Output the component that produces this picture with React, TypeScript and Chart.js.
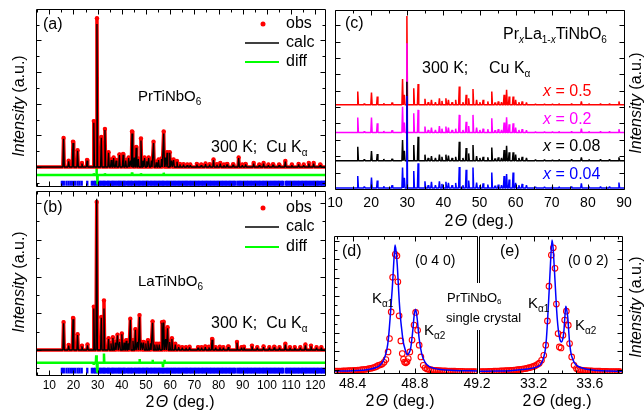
import React, { useEffect, useRef } from "react";
import { Chart, registerables } from "chart.js";

Chart.register(...registerables);

const FONT = '"Liberation Sans", Arial, Helvetica, sans-serif';

// ===== (a) PrTiNbO6 powder pattern (peak position, calc height, obs height) =====
const A_POS = [15.9, 18.0, 19.8, 21.7, 23.5, 25.6, 28.4, 29.7, 31.5, 33.0, 34.5, 35.6, 36.6, 37.6, 39.0, 40.5, 41.6, 42.8, 43.6, 44.2, 45.1, 45.9, 46.8, 47.9, 48.7, 49.4, 50.3, 51.1, 52.2, 53.1, 54.2, 55.2, 56.4, 57.3, 58.0, 58.7, 59.8, 60.6, 61.4, 62.8, 64.0, 65.5, 67.0, 68.3, 71.0, 72.8, 74.6, 76.3, 77.9, 79.3, 80.7, 82.2, 83.5, 86.0, 88.3, 89.8, 91.2, 94.5, 96.8, 98.6, 100.6, 102.5, 105.0, 107.6, 110.3, 113.1, 115.2, 117.3, 119.3, 122.0];
const A_CALC = [0.89, 0.18, 0.76, 0.51, 0.11, 0.2, 1.4, 4.52, 0.92, 1.17, 0.45, 0.22, 0.28, 0.2, 0.38, 0.39, 0.2, 0.28, 0.2, 1.06, 0.3, 0.61, 0.25, 0.84, 0.2, 0.28, 0.18, 0.28, 0.2, 0.76, 0.15, 0.22, 0.25, 1.06, 0.3, 0.45, 0.45, 0.2, 0.22, 0.17, 0.08, 0.07, 0.06, 0.06, 0.08, 0.06, 0.09, 0.07, 0.22, 0.07, 0.11, 0.06, 0.08, 0.07, 0.28, 0.06, 0.08, 0.11, 0.06, 0.11, 0.06, 0.07, 0.06, 0.17, 0.06, 0.08, 0.06, 0.11, 0.11, 0.06];
const A_OBS = [0.92, 0.2, 0.8, 0.53, 0.13, 0.22, 1.45, 4.7, 0.95, 1.2, 0.47, 0.24, 0.3, 0.22, 0.4, 0.41, 0.22, 0.3, 0.22, 1.12, 0.32, 0.63, 0.27, 0.9, 0.22, 0.3, 0.2, 0.3, 0.22, 0.8, 0.17, 0.24, 0.27, 1.12, 0.32, 0.47, 0.47, 0.22, 0.24, 0.19, 0.1, 0.09, 0.08, 0.08, 0.1, 0.08, 0.11, 0.09, 0.24, 0.09, 0.13, 0.08, 0.1, 0.09, 0.3, 0.08, 0.1, 0.13, 0.08, 0.13, 0.08, 0.09, 0.08, 0.19, 0.08, 0.1, 0.08, 0.13, 0.13, 0.08];
const A_DIFF_BASE = -0.25;
const A_DIFF_POS = [28.4, 29.5, 29.9, 33.0, 44.2, 47.9, 57.3];
const A_DIFF_VAL = [0.05, 0.25, -0.3, 0.05, 0.08, 0.05, 0.07];
const A_BRAGG_Y = -0.52;

// ===== (b) LaTiNbO6 powder pattern =====
const B_POS = [15.9, 18.0, 19.8, 21.7, 23.5, 25.8, 28.4, 29.6, 31.5, 32.6, 34.5, 35.5, 36.3, 37.3, 38.2, 39.1, 40.0, 40.9, 41.8, 42.7, 43.5, 44.6, 45.6, 46.5, 47.3, 48.2, 49.0, 49.9, 50.8, 51.8, 52.7, 53.6, 54.5, 55.5, 56.6, 57.3, 58.1, 58.9, 59.8, 60.7, 62.1, 63.5, 65.0, 66.5, 68.0, 71.5, 73.0, 74.5, 76.0, 77.3, 78.8, 80.5, 82.0, 84.0, 87.6, 89.5, 90.5, 93.8, 96.0, 98.6, 101.0, 103.0, 105.2, 107.6, 109.5, 111.5, 113.8, 115.9, 118.2, 120.5, 122.5];
const B_CALC = [0.73, 0.12, 0.84, 0.41, 0.1, 0.13, 1.13, 4.12, 0.88, 1.13, 0.3, 0.18, 0.33, 0.2, 0.4, 0.22, 0.43, 0.2, 0.25, 0.18, 0.82, 0.25, 0.55, 0.22, 0.9, 0.2, 0.2, 0.18, 0.25, 0.18, 0.74, 0.15, 0.15, 0.15, 0.74, 0.75, 0.3, 0.59, 0.22, 0.3, 0.15, 0.08, 0.06, 0.06, 0.07, 0.06, 0.06, 0.08, 0.07, 0.28, 0.06, 0.07, 0.06, 0.08, 0.2, 0.06, 0.07, 0.1, 0.06, 0.08, 0.06, 0.07, 0.06, 0.15, 0.06, 0.06, 0.06, 0.13, 0.1, 0.06, 0.06];
const B_OBS = [0.76, 0.14, 0.87, 0.43, 0.12, 0.15, 1.18, 4.03, 0.9, 1.35, 0.32, 0.2, 0.35, 0.22, 0.42, 0.24, 0.45, 0.22, 0.27, 0.2, 0.85, 0.27, 0.57, 0.24, 0.95, 0.22, 0.22, 0.2, 0.27, 0.2, 0.78, 0.17, 0.17, 0.17, 0.76, 0.77, 0.32, 0.62, 0.24, 0.32, 0.17, 0.1, 0.08, 0.08, 0.09, 0.08, 0.08, 0.1, 0.09, 0.3, 0.08, 0.09, 0.08, 0.1, 0.22, 0.08, 0.09, 0.12, 0.08, 0.1, 0.08, 0.09, 0.08, 0.17, 0.08, 0.08, 0.08, 0.15, 0.12, 0.08, 0.08];
const B_DIFF_BASE = -0.345;
const B_DIFF_POS = [28.4, 29.4, 29.8, 32.6, 47.3, 52.7, 57.0, 57.6];
const B_DIFF_VAL = [-0.06, 0.2, -0.25, 0.25, 0.1, 0.08, -0.12, 0.08];
const B_BRAGG_Y = -0.56;

// Bragg reflection positions (blue tick marks)
const BRAGG = [15.2, 16.0, 17.1, 18.0, 18.9, 19.8, 20.7, 21.7, 22.5, 23.4, 25.7, 27.6, 28.4, 29.0, 29.6, 30.4, 31.0, 31.5, 32.1, 32.6, 33.0, 33.7, 34.3, 34.6, 35.3, 35.9, 36.4, 36.9, 37.5, 38.2, 38.7, 39.1, 39.7, 40.3, 40.8, 41.2, 41.9, 42.6, 43.1, 43.7, 44.2, 44.9, 45.5, 46.0, 46.6, 47.1, 47.6, 48.2, 48.8, 49.3, 49.9, 50.4, 50.8, 51.5, 52.1, 52.6, 53.2, 53.7, 54.3, 54.8, 55.4, 55.9, 56.5, 57.0, 57.4, 58.1, 58.6, 59.2, 59.7, 60.3, 60.9, 61.4, 61.9, 62.5, 63.1, 63.6, 64.2, 64.7, 65.3, 65.9, 66.4, 66.9, 67.5, 68.1, 68.6, 69.2, 69.7, 70.3, 70.8, 71.4, 71.9, 72.5, 73.1, 73.6, 74.2, 74.7, 75.3, 75.8, 76.4, 76.9, 77.5, 78.0, 78.6, 79.2, 79.7, 80.3, 80.8, 81.4, 81.9, 82.5, 83.0, 83.6, 84.2, 84.7, 85.3, 85.8, 86.4, 86.9, 87.8, 88.3, 88.9, 89.4, 90.0, 90.6, 91.1, 91.7, 92.2, 92.8, 93.3, 93.9, 94.5, 95.0, 95.6, 96.1, 96.7, 97.2, 97.8, 98.4, 98.9, 99.5, 100.0, 100.6, 101.1, 101.7, 102.3, 102.8, 103.4, 103.9, 104.5, 105.0, 105.6, 106.2, 106.7, 107.8, 108.3, 108.9, 109.4, 110.0, 110.6, 111.1, 111.7, 112.2, 112.8, 113.3, 113.9, 114.5, 115.0, 115.6, 116.1, 116.7, 117.2, 117.8, 118.4, 118.9, 119.5, 120.0, 120.6, 121.1, 121.7, 122.3, 122.8, 123.4, 123.9];

const AB_X_TICKS = [10, 20, 30, 40, 50, 60, 70, 80, 90, 100, 110, 120];
const AB_X_MINOR = [5, 15, 25, 35, 45, 55, 65, 75, 85, 95, 105, 115];
const AB_Y_MAJOR = [0, 1, 2, 3, 4];
const AB_Y_MINOR = [-0.5, 0.5, 1.5, 2.5, 3.5, 4.5];

// ===== (c) PrxLa1-xTiNbO6 patterns =====
const C_POS = [16.3, 18.1, 20.1, 21.7, 23.5, 25.8, 28.7, 29.2, 29.9, 31.8, 33.0, 34.9, 35.8, 36.7, 37.8, 38.9, 39.6, 40.7, 41.4, 42.4, 43.4, 44.4, 45.4, 46.3, 47.0, 48.2, 49.2, 50.1, 51.0, 52.3, 53.4, 54.3, 55.2, 56.1, 56.8, 57.5, 58.2, 59.3, 60.0, 60.9, 61.8, 63.0, 65.5, 68.0, 70.2, 72.0, 75.5, 78.2, 80.3, 83.5, 86.0, 88.6];
const C_X05 = [7.4, 0.7, 6.9, 4.7, 0.9, 1.3, 14.5, 5.6, 49.7, 9.3, 11.7, 3.4, 1.5, 2.8, 1.5, 3.7, 2.2, 3.7, 2.8, 1.5, 2.8, 10.2, 1.5, 5.6, 3.7, 8.8, 2.8, 1.5, 2.8, 1.9, 7.4, 1.3, 1.9, 1.5, 5.6, 8.4, 4.7, 4.7, 2.8, 1.5, 1.9, 1.3, 0.6, 0.6, 0.5, 0.7, 0.7, 1.9, 0.7, 0.7, 0.7, 1.9];
const C_X02 = [8.4, 0.7, 8.4, 5.2, 0.9, 1.3, 14.5, 5.6, 49.9, 10.8, 12.7, 3.4, 1.5, 2.8, 1.5, 3.7, 2.2, 3.4, 2.8, 1.5, 2.2, 9.9, 1.5, 6.1, 3.7, 9.9, 2.8, 1.5, 2.2, 1.9, 8.0, 1.3, 1.9, 1.5, 5.6, 8.6, 4.7, 5.2, 2.8, 1.5, 1.9, 1.3, 0.6, 0.6, 0.5, 0.7, 0.7, 2.2, 0.7, 0.7, 0.7, 1.9];
const C_X008 = [7.8, 0.7, 5.4, 3.7, 0.9, 1.1, 11.5, 5.6, 44.1, 8.8, 13.4, 3.4, 1.5, 2.6, 1.5, 3.4, 2.2, 3.4, 2.8, 1.5, 2.2, 10.6, 1.5, 7.1, 4.1, 8.8, 2.6, 1.5, 2.2, 1.9, 7.4, 1.3, 1.9, 1.5, 6.0, 8.4, 4.7, 4.7, 3.4, 1.5, 2.2, 1.5, 0.6, 0.6, 0.5, 0.7, 0.7, 1.9, 0.7, 0.7, 0.7, 1.9];
const C_X004 = [6.7, 0.7, 5.8, 4.1, 0.9, 1.5, 11.4, 5.6, 51.4, 9.5, 13.8, 3.7, 1.5, 3.4, 1.5, 3.7, 2.2, 3.4, 2.8, 1.5, 2.8, 11.7, 1.5, 10.1, 4.1, 11.4, 3.0, 1.5, 2.6, 1.9, 8.6, 1.3, 1.9, 1.5, 6.7, 7.8, 4.7, 8.6, 2.8, 1.5, 2.2, 1.5, 0.6, 0.6, 0.5, 0.7, 0.7, 2.6, 0.7, 0.7, 0.7, 3.0];
const C_OFFSET_05 = 47;
const C_OFFSET_02 = 31.5;
const C_OFFSET_008 = 15.8;
const C_OFFSET_004 = 0.6;
const C_X_TICKS = [10, 20, 30, 40, 50, 60, 70, 80, 90];
const C_X_MINOR = [15, 25, 35, 45, 55, 65, 75, 85];
const C_Y_TICKS = [9.1, 18.3, 27.4, 36.6, 45.7, 54.9, 64.0, 73.2, 82.3, 91.5];

// ===== (d) (0 4 0) single-crystal reflection =====
const D_FIT = [[48.28, 1.5], [48.4, 1.7], [48.48, 2.2], [48.51, 2.7], [48.55, 4.0], [48.575, 5.6], [48.595, 8.5], [48.607, 11.7], [48.62, 17], [48.63, 25], [48.644, 44.6], [48.655, 62], [48.66, 71.5], [48.668, 87], [48.673, 93.4], [48.68, 88], [48.687, 78.8], [48.695, 62], [48.7, 52], [48.708, 40], [48.715, 32.5], [48.725, 23], [48.736, 17.9], [48.751, 13.4], [48.762, 14.5], [48.773, 17.9], [48.786, 30], [48.796, 42.2], [48.805, 46.6], [48.815, 39.8], [48.828, 25], [48.844, 14.2], [48.865, 8], [48.897, 4.4], [48.93, 3.2], [48.962, 2.5], [49.05, 1.9], [49.2, 1.5]];
const D_OBS = [[48.290, 1.3], [48.302, 1.3], [48.314, 1.4], [48.326, 1.4], [48.338, 1.5], [48.350, 1.5], [48.362, 1.6], [48.374, 1.7], [48.386, 1.7], [48.398, 1.8], [48.410, 1.9], [48.422, 2.0], [48.434, 2.1], [48.446, 2.2], [48.458, 2.4], [48.470, 2.5], [48.482, 2.7], [48.494, 2.9], [48.506, 3.2], [48.518, 3.4], [48.530, 3.8], [48.542, 4.2], [48.554, 4.8], [48.566, 5.6], [48.578, 6.0], [48.590, 6.5], [48.602, 7.8], [48.614, 9.8], [48.628, 15.4], [48.637, 25.2], [48.648, 44.6], [48.657, 69.8], [48.674, 86.6], [48.685, 85.6], [48.691, 66.6], [48.699, 41.7], [48.710, 23.4], [48.719, 14.2], [48.727, 10.0], [48.734, 8.0], [48.742, 7.4], [48.750, 8.2], [48.758, 10.5], [48.768, 15.4], [48.782, 24.0], [48.795, 35.0], [48.805, 44.2], [48.818, 31.2], [48.828, 20.3], [48.839, 11.7], [48.854, 5.6], [48.866, 3.8], [48.878, 3.0], [48.890, 2.6], [48.902, 2.4], [48.914, 2.2], [48.926, 2.0], [48.938, 1.9], [48.950, 1.8], [48.962, 1.7], [48.974, 1.6], [48.986, 1.5], [48.998, 1.5], [49.010, 1.4], [49.022, 1.4], [49.034, 1.3], [49.046, 1.3], [49.058, 1.3], [49.070, 1.2], [49.082, 1.2], [49.094, 1.2], [49.106, 1.2], [49.118, 1.1], [49.130, 1.1], [49.142, 1.1], [49.154, 1.1], [49.166, 1.1], [49.178, 1.0], [49.190, 1.0]];
const D_X_TICKS = [48.4, 48.8, 49.2];
const D_X_LABELS = ["48.4", "48.8", "49.2"];
const D_X_MINOR = [48.3, 48.5, 48.6, 48.7, 48.9, 49.0, 49.1];

// ===== (e) (0 0 2) single-crystal reflection =====
const E_FIT = [[32.81, 1.2], [32.95, 1.5], [33.05, 1.9], [33.12, 2.5], [33.18, 3.3], [33.22, 4.3], [33.244, 5.6], [33.26, 8], [33.272, 11.7], [33.283, 17], [33.291, 25.2], [33.3, 40], [33.31, 59.3], [33.32, 80], [33.331, 97.1], [33.338, 92], [33.346, 78.8], [33.355, 62], [33.363, 47.1], [33.372, 35], [33.381, 27.6], [33.39, 23.5], [33.399, 22.7], [33.407, 24.5], [33.415, 30], [33.422, 40], [33.429, 48.8], [33.436, 46], [33.444, 39.8], [33.451, 29], [33.458, 20.3], [33.467, 14], [33.477, 10.5], [33.49, 7.5], [33.506, 5.6], [33.54, 3.8], [33.577, 2.7], [33.65, 1.8], [33.73, 1.4], [33.83, 1.2]];
const E_OBS = [[32.820, 1.0], [32.832, 1.0], [32.844, 1.1], [32.856, 1.1], [32.868, 1.1], [32.880, 1.2], [32.892, 1.2], [32.904, 1.2], [32.916, 1.3], [32.928, 1.3], [32.940, 1.4], [32.952, 1.4], [32.964, 1.5], [32.976, 1.5], [32.988, 1.6], [33.000, 1.7], [33.012, 1.7], [33.024, 1.8], [33.036, 1.9], [33.048, 2.0], [33.060, 2.1], [33.072, 2.2], [33.084, 2.4], [33.096, 2.5], [33.108, 2.7], [33.120, 2.9], [33.132, 3.1], [33.144, 3.3], [33.156, 3.6], [33.168, 3.9], [33.180, 4.2], [33.192, 4.6], [33.204, 5.0], [33.216, 5.6], [33.228, 6.3], [33.240, 7.2], [33.256, 9.3], [33.272, 12.9], [33.286, 20.3], [33.298, 38.0], [33.309, 63.4], [33.326, 86.1], [33.340, 91.4], [33.352, 76.4], [33.362, 50.3], [33.374, 28.8], [33.383, 19.0], [33.395, 18.3], [33.409, 27.6], [33.421, 38.6], [33.433, 45.1], [33.447, 34.9], [33.456, 21.5], [33.471, 11.7], [33.488, 5.6], [33.505, 3.2], [33.517, 2.6], [33.529, 2.3], [33.541, 2.1], [33.553, 1.9], [33.565, 1.8], [33.577, 1.7], [33.589, 1.6], [33.601, 1.5], [33.613, 1.5], [33.625, 1.4], [33.637, 1.4], [33.649, 1.3], [33.661, 1.3], [33.673, 1.3], [33.685, 1.2], [33.697, 1.2], [33.709, 1.2], [33.721, 1.2], [33.733, 1.1], [33.745, 1.1], [33.757, 1.1], [33.769, 1.1], [33.781, 1.1], [33.793, 1.0], [33.805, 1.0], [33.817, 1.0]];
const E_X_TICKS = [33.2, 33.6];
const E_X_LABELS = ["33.2", "33.6"];
const E_X_MINOR = [32.9, 33.0, 33.1, 33.3, 33.4, 33.5, 33.7, 33.8];
const DE_Y_MAJOR = [2.5, 15.9, 29.3, 42.7, 56.1, 69.5, 82.9, 96.3];
const DE_Y_MINOR = [9.2, 22.6, 36.0, 49.4, 62.8, 76.2, 89.6];

// ---------- helpers ----------
type Seg = { t: string; it?: boolean; sub?: boolean };
type Box = { left: number; top: number; width: number; height: number };

function peakLine(pos: number[], h: number[], base: number, w: number, x0: number, x1: number) {
  const pts: { x: number; y: number }[] = [{ x: x0, y: base }];
  pos.forEach((p, i) => {
    pts.push({ x: p - w, y: base }, { x: p, y: base + h[i] }, { x: p + w, y: base });
  });
  pts.push({ x: x1, y: base });
  return pts;
}

function rich(ctx: CanvasRenderingContext2D, segs: Seg[], x: number, y: number, size: number, color = "#000", align: "left" | "center" = "left") {
  const subSize = Math.round(size * 0.65);
  const fontOf = (s: Seg) => `${s.it ? "italic " : ""}${s.sub ? subSize : size}px ${FONT}`;
  let total = 0;
  for (const s of segs) {
    ctx.font = fontOf(s);
    total += ctx.measureText(s.t).width;
  }
  let cx = align === "center" ? x - total / 2 : x;
  ctx.fillStyle = color;
  ctx.textAlign = "left";
  ctx.textBaseline = "middle";
  for (const s of segs) {
    ctx.font = fontOf(s);
    ctx.fillText(s.t, cx, y + (s.sub ? size * 0.32 : 0));
    cx += ctx.measureText(s.t).width;
  }
}

function vrich(ctx: CanvasRenderingContext2D, segs: Seg[], x: number, y: number, size: number) {
  ctx.save();
  ctx.translate(x, y);
  ctx.rotate(-Math.PI / 2);
  rich(ctx, segs, 0, 0, size, "#000", "center");
  ctx.restore();
}

const INTENSITY: Seg[] = [{ t: "Intensity", it: true }, { t: " (a.u.)" }];
const TWO_THETA: Seg[] = [{ t: "2\u200a" }, { t: "\u0398", it: true }, { t: " (deg.)" }];

type FrameSpec = {
  xMaj: number[]; xMin: number[]; yMaj: number[]; yMin: number[];
  tl?: boolean; tr?: boolean; tt?: boolean; tb?: boolean;
};

function drawFrame(chart: any, f: FrameSpec) {
  const { ctx, chartArea: a } = chart;
  const xs = chart.scales.x, ys = chart.scales.y;
  const L = Math.round(a.left) + 0.5, R = Math.round(a.right) + 0.5;
  const T = Math.round(a.top) + 0.5, B = Math.round(a.bottom) + 0.5;
  ctx.save();
  ctx.strokeStyle = "#000";
  ctx.lineWidth = 1;
  ctx.beginPath();
  ctx.rect(L, T, R - L, B - T);
  ctx.stroke();
  const seg = (x1: number, y1: number, x2: number, y2: number) => {
    ctx.beginPath(); ctx.moveTo(x1, y1); ctx.lineTo(x2, y2); ctx.stroke();
  };
  const xt = (vals: number[], len: number) => vals.forEach((v) => {
    const p = Math.round(xs.getPixelForValue(v)) + 0.5;
    if (p < L || p > R) return;
    if (f.tb !== false) seg(p, B, p, B - len);
    if (f.tt !== false) seg(p, T, p, T + len);
  });
  const yt = (vals: number[], len: number) => vals.forEach((v) => {
    const p = Math.round(ys.getPixelForValue(v)) + 0.5;
    if (p < T || p > B) return;
    if (f.tl !== false) seg(L, p, L + len, p);
    if (f.tr !== false) seg(R, p, R - len, p);
  });
  xt(f.xMaj, 5); xt(f.xMin, 3); yt(f.yMaj, 5); yt(f.yMin, 3);
  ctx.restore();
}

function decor(box: Box, f: FrameSpec, extra: (ctx: CanvasRenderingContext2D) => void) {
  return {
    id: "decor",
    afterDraw(chart: any) {
      drawFrame(chart, f);
      const ctx = chart.ctx as CanvasRenderingContext2D;
      ctx.save();
      ctx.translate(-box.left, -box.top);
      extra(ctx);
      ctx.restore();
    },
  };
}

function xScale(min: number, max: number, show: boolean, ticks: number[], labels: string[], size: number, pad: number, h: number) {
  return {
    type: "linear", min, max, display: show,
    grid: { display: false, drawTicks: false },
    border: { display: false },
    ticks: {
      autoSkip: false, maxRotation: 0, padding: pad, color: "#000",
      font: { family: FONT, size },
      callback: (_v: any, i: number) => labels[i],
    },
    afterBuildTicks: (s: any) => { s.ticks = ticks.map((v) => ({ value: v })); },
    afterFit: (s: any) => { s.height = h; s.paddingLeft = 0; s.paddingRight = 0; },
  };
}

function baseOptions(pad: any, x: any, ymin: number, ymax: number) {
  return {
    animation: false, responsive: false, maintainAspectRatio: false, events: [],
    layout: { padding: pad },
    plugins: { legend: { display: false }, tooltip: { enabled: false } },
    scales: { x, y: { type: "linear", min: ymin, max: ymax, display: false } },
  };
}

function legendAB(ctx: CanvasRenderingContext2D, y0: number, y1: number, y2: number) {
  ctx.fillStyle = "#ff0000";
  ctx.beginPath(); ctx.arc(263, y0, 2.5, 0, Math.PI * 2); ctx.fill();
  ctx.lineWidth = 1.5; ctx.strokeStyle = "#000";
  ctx.beginPath(); ctx.moveTo(245, y1); ctx.lineTo(279, y1); ctx.stroke();
  ctx.lineWidth = 2; ctx.strokeStyle = "#00ff00";
  ctx.beginPath(); ctx.moveTo(245, y2); ctx.lineTo(279, y2); ctx.stroke();
  rich(ctx, [{ t: "obs" }], 286, y0, 16);
  rich(ctx, [{ t: "calc" }], 286, y1, 16);
  rich(ctx, [{ t: "diff" }], 286, y2, 16);
}

function rietveldSets(pos: number[], calc: number[], obs: number[], dPos: number[], dVal: number[], dBase: number, braggY: number) {
  return [
    { data: peakLine(pos, calc, 0, 0.3, 4.5, 124), showLine: true, borderColor: "#000", borderWidth: 1.3, pointRadius: 0, borderJoinStyle: "bevel" },
    { data: pos.map((p, i) => ({ x: p, y: obs[i] })), showLine: false, pointRadius: 2.2, borderWidth: 0, backgroundColor: "#ff0000", pointBorderWidth: 0 },
    { data: peakLine(pos, obs, 0, 0.3, 4.5, 124), showLine: true, borderColor: "#ff0000", borderWidth: 3.5, pointRadius: 0, borderJoinStyle: "round" },
    { data: peakLine(dPos, dVal, dBase, 0.15, 4.5, 124), showLine: true, borderColor: "#00ff00", borderWidth: 2.5, pointRadius: 0, borderJoinStyle: "bevel" },
    { data: BRAGG.map((x) => ({ x, y: braggY })), showLine: false, pointStyle: "line", rotation: 90, pointRadius: 2.8, borderColor: "#0000ff", borderWidth: 2.3, pointBorderColor: "#0000ff" },
  ];
}

const BOX_A: Box = { left: 0, top: 0, width: 335, height: 192 };
const BOX_B: Box = { left: 0, top: 185, width: 335, height: 228 };
const BOX_C: Box = { left: 326, top: 0, width: 318, height: 232 };
const BOX_D: Box = { left: 326, top: 228, width: 170, height: 185 };
const BOX_E: Box = { left: 430, top: 228, width: 214, height: 185 };

function buildConfigs() {
  const ab = AB_X_TICKS.map(String);
  const cfgA = {
    type: "scatter",
    data: { datasets: rietveldSets(A_POS, A_CALC, A_OBS, A_DIFF_POS, A_DIFF_VAL, A_DIFF_BASE, A_BRAGG_Y) },
    options: baseOptions({ left: 36, right: 10, top: 9, bottom: 1 }, xScale(4.5, 124, false, AB_X_TICKS, ab, 12, 3, 0), -0.59, 4.99),
    plugins: [decor(BOX_A, { xMaj: AB_X_TICKS, xMin: AB_X_MINOR, yMaj: AB_Y_MAJOR, yMin: AB_Y_MINOR }, (ctx) => {
      rich(ctx, [{ t: "(a)" }], 43, 25, 16);
      legendAB(ctx, 24, 43, 62);
      rich(ctx, [{ t: "PrTiNbO" }, { t: "6", sub: true }], 138, 97, 15);
      rich(ctx, [{ t: "300 K;  Cu K" }, { t: "\u03b1", sub: true }], 211, 148, 16);
      vrich(ctx, INTENSITY, 20, 106, 16);
    })],
  };
  const cfgB = {
    type: "scatter",
    data: { datasets: rietveldSets(B_POS, B_CALC, B_OBS, B_DIFF_POS, B_DIFF_VAL, B_DIFF_BASE, B_BRAGG_Y) },
    options: baseOptions({ left: 36, right: 10, top: 6, bottom: 22 }, xScale(4.5, 124, true, AB_X_TICKS, ab, 12, 3, 16), -0.68, 4.32),
    plugins: [decor(BOX_B, { xMaj: AB_X_TICKS, xMin: AB_X_MINOR, yMaj: AB_Y_MAJOR, yMin: AB_Y_MINOR }, (ctx) => {
      rich(ctx, [{ t: "(b)" }], 43, 208, 16);
      legendAB(ctx, 208, 227, 247);
      rich(ctx, [{ t: "LaTiNbO" }, { t: "6", sub: true }], 138, 282, 15);
      rich(ctx, [{ t: "300 K;  Cu K" }, { t: "\u03b1", sub: true }], 211, 324, 16);
      vrich(ctx, INTENSITY, 20, 282, 16);
      rich(ctx, TWO_THETA, 180, 403, 16, "#000", "center");
    })],
  };
  const cTrace = (h: number[], off: number, color: string) => ({
    data: peakLine(C_POS, h, off, 0.18, 10, 90), showLine: true, borderColor: color, borderWidth: 1.5, pointRadius: 0, borderJoinStyle: "bevel",
  });
  const cfgC = {
    type: "scatter",
    data: {
      datasets: [
        cTrace(C_X004, C_OFFSET_004, "#0000ff"),
        cTrace(C_X008, C_OFFSET_008, "#000000"),
        cTrace(C_X02, C_OFFSET_02, "#ff00ff"),
        cTrace(C_X05, C_OFFSET_05, "#ff0000"),
      ],
    },
    options: baseOptions({ left: 9, right: 20, top: 10, bottom: 25 }, xScale(10, 90, true, C_X_TICKS, C_X_TICKS.map(String), 14, 6, 18), 0, 100),
    plugins: [decor(BOX_C, { xMaj: C_X_TICKS, xMin: C_X_MINOR, yMaj: C_Y_TICKS, yMin: [] }, (ctx) => {
      rich(ctx, [{ t: "(c)" }], 345, 24, 16);
      rich(ctx, [{ t: "Pr" }, { t: "x", it: true, sub: true }, { t: "La" }, { t: "1-", sub: true }, { t: "x", it: true, sub: true }, { t: "TiNbO" }, { t: "6", sub: true }], 503, 35, 16);
      rich(ctx, [{ t: "300 K;" }], 422, 69, 16);
      rich(ctx, [{ t: "Cu K" }, { t: "\u03b1", sub: true }], 489, 69, 16);
      rich(ctx, [{ t: "x", it: true }, { t: " = 0.5" }], 543, 92, 16, "#ff0000");
      rich(ctx, [{ t: "x", it: true }, { t: " = 0.2" }], 543, 120, 16, "#ff00ff");
      rich(ctx, [{ t: "x", it: true }, { t: " = 0.08" }], 543, 147, 16, "#000000");
      rich(ctx, [{ t: "x", it: true }, { t: " = 0.04" }], 543, 175, 16, "#0000ff");
      rich(ctx, TWO_THETA, 479, 222, 16, "#000", "center");
      vrich(ctx, INTENSITY, 637, 103, 16);
    })],
  };
  const fitSet = (pts: number[][]) => ({
    data: pts.map(([x, y]) => ({ x, y })), showLine: true, borderColor: "#0000ff", borderWidth: 1.5, pointRadius: 0, cubicInterpolationMode: "monotone",
  });
  const obsSet = (pts: number[][]) => ({
    data: pts.map(([x, y]) => ({ x, y })), showLine: false, pointRadius: 2.8, pointBorderWidth: 1.1, pointBorderColor: "#ff0000", pointBackgroundColor: "rgba(0,0,0,0)", borderColor: "#ff0000", backgroundColor: "rgba(0,0,0,0)",
  });
  const cfgD = {
    type: "scatter",
    data: { datasets: [fitSet(D_FIT), obsSet(D_OBS)] },
    options: baseOptions({ left: 8, right: 19, top: 8, bottom: 22 }, xScale(48.28, 49.2, true, D_X_TICKS, D_X_LABELS, 14, 3, 18), 0, 100),
    plugins: [decor(BOX_D, { xMaj: D_X_TICKS, xMin: D_X_MINOR, yMaj: DE_Y_MAJOR, yMin: DE_Y_MINOR, tr: false }, (ctx) => {
      rich(ctx, [{ t: "(d)" }], 342, 252, 16);
      rich(ctx, [{ t: "(0 4 0)" }], 415, 261, 14);
      rich(ctx, [{ t: "K" }, { t: "\u03b11", sub: true }], 372, 299, 15);
      rich(ctx, [{ t: "K" }, { t: "\u03b12", sub: true }], 424, 331, 15);
      rich(ctx, TWO_THETA, 400, 402, 16, "#000", "center");
    })],
  };
  const cfgE = {
    type: "scatter",
    data: { datasets: [fitSet(E_FIT), obsSet(E_OBS)] },
    options: baseOptions({ left: 49, right: 22, top: 8, bottom: 22 }, xScale(32.81, 33.83, true, E_X_TICKS, E_X_LABELS, 14, 3, 18), 0, 100),
    plugins: [decor(BOX_E, { xMaj: E_X_TICKS, xMin: E_X_MINOR, yMaj: DE_Y_MAJOR, yMin: DE_Y_MINOR, tl: false }, (ctx) => {
      ctx.fillStyle = "#fff";
      ctx.fillRect(444, 283, 76, 47);
      rich(ctx, [{ t: "PrTiNbO" }, { t: "6", sub: true }], 447, 298, 13);
      rich(ctx, [{ t: "single crystal" }], 446, 318, 13);
      rich(ctx, [{ t: "(e)" }], 500, 252, 16);
      rich(ctx, [{ t: "(0 0 2)" }], 568, 261, 14);
      rich(ctx, [{ t: "K" }, { t: "\u03b11", sub: true }], 528, 304, 15);
      rich(ctx, [{ t: "K" }, { t: "\u03b12", sub: true }], 575, 326, 15);
      rich(ctx, TWO_THETA, 557, 402, 16, "#000", "center");
      vrich(ctx, INTENSITY, 637, 307, 16);
    })],
  };
  return [
    { box: BOX_A, cfg: cfgA },
    { box: BOX_B, cfg: cfgB },
    { box: BOX_C, cfg: cfgC },
    { box: BOX_D, cfg: cfgD },
    { box: BOX_E, cfg: cfgE },
  ];
}

const PANELS = buildConfigs();

export default function App() {
  const refs = useRef<(HTMLCanvasElement | null)[]>([]);
  useEffect(() => {
    const charts = PANELS.map((p, i) => new Chart(refs.current[i] as HTMLCanvasElement, p.cfg as any));
    return () => charts.forEach((c) => c.destroy());
  }, []);
  return (
    <div style={{ position: "absolute", left: 0, top: 0, width: 644, height: 413, background: "#fff", overflow: "hidden" }}>
      {PANELS.map((p, i) => (
        <canvas
          key={i}
          ref={(el) => { refs.current[i] = el; }}
          width={p.box.width}
          height={p.box.height}
          style={{ position: "absolute", left: p.box.left, top: p.box.top, width: p.box.width, height: p.box.height }}
        />
      ))}
    </div>
  );
}
